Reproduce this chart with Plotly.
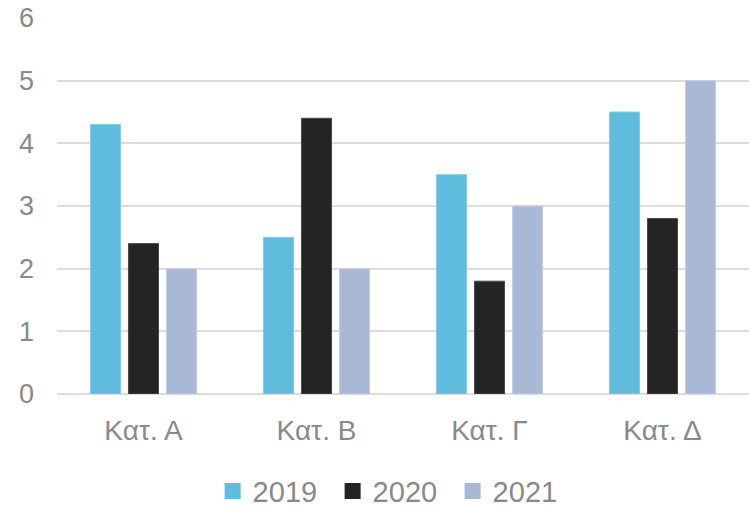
import plotly.graph_objects as go

categories = ["Κατ. Α", "Κατ. Β", "Κατ. Γ", "Κατ. Δ"]
series_names = ["2019", "2020", "2021"]
values_2019 = [4.3, 2.5, 3.5, 4.5]
values_2020 = [2.4, 4.4, 1.8, 2.8]
values_2021 = [2.0, 2.0, 3.0, 5.0]
y_ticks = [0, 1, 2, 3, 4, 5, 6]

fill_colors = ["#5FBCDD", "#242424", "#A9B9D5"]
edge_colors = ["#86CCE6", "#4A4A4A", "#C3CEE2"]

FONT = "Liberation Sans, Arial, sans-serif"
TEXT_GREY = "#898989"

fig = go.Figure()
for name, vals, fc, ec in zip(series_names, [values_2019, values_2020, values_2021],
                              fill_colors, edge_colors):
    fig.add_trace(go.Bar(
        name=name, x=categories, y=vals, showlegend=False,
        marker=dict(color=fc, line=dict(color=ec, width=1)),
    ))

# legend keys: square swatches in the series colours
for name, fc in zip(series_names, fill_colors):
    fig.add_trace(go.Scatter(
        name=name, x=[None], y=[None], mode="markers",
        marker=dict(symbol="square", size=17, color=fc),
        showlegend=True,
    ))

fig.update_layout(
    width=751, height=509,
    margin=dict(l=57, r=2, t=18, b=115, autoexpand=False),
    paper_bgcolor="white", plot_bgcolor="white",
    barmode="group", bargap=0.34, bargroupgap=0.21,
    font=dict(family=FONT, color=TEXT_GREY),
    showlegend=True,
    legend=dict(
        orientation="h", x=0.485, xanchor="center",
        yref="container", y=0.035, yanchor="middle",
        font=dict(size=29, color=TEXT_GREY, family=FONT),
        itemwidth=30, tracegroupgap=0, entrywidth=75,
    ),
)
fig.update_xaxes(
    showgrid=False, showline=False, zeroline=False, automargin=False,
    tickfont=dict(size=28, color=TEXT_GREY, family=FONT),
    ticks="", ticklabelstandoff=17,
)
fig.update_yaxes(
    range=[0, 6], tickvals=y_ticks, ticktext=[str(t) for t in y_ticks],
    showgrid=True, gridcolor="#DDDDDD", gridwidth=1.5,
    zeroline=True, zerolinecolor="#DDDDDD", zerolinewidth=1.5,
    showline=False, ticks="", automargin=False,
    tickfont=dict(size=27, color=TEXT_GREY, family=FONT),
    ticklabelstandoff=22,
)

fig.write_html("out.html")
